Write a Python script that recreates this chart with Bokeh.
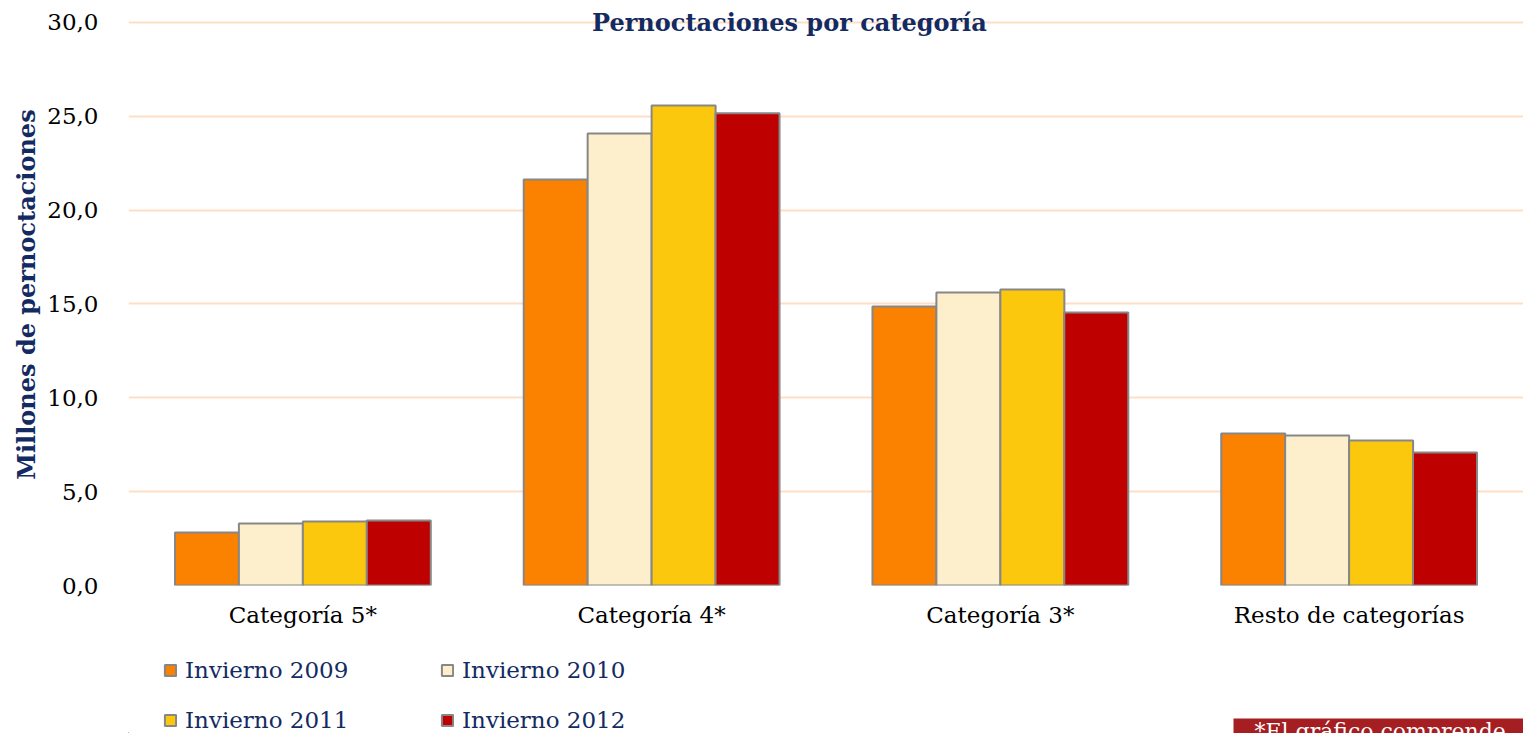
from bokeh.plotting import figure
from bokeh.layouts import column
from bokeh.models import (ColumnDataSource, FactorRange, Range1d, FixedTicker,
                          CustomJSTickFormatter, Legend, LegendItem, Label)
from bokeh.transform import dodge
from bokeh.embed import file_html
from bokeh.resources import INLINE

categories = ["Categoría 5*", "Categoría 4*", "Categoría 3*", "Resto de categorías"]
series = ["Invierno 2009", "Invierno 2010", "Invierno 2011", "Invierno 2012"]
v2009 = [2.82, 21.63, 14.86, 8.10]
v2010 = [3.30, 24.08, 15.61, 7.99]
v2011 = [3.41, 25.57, 15.77, 7.73]
v2012 = [3.46, 25.15, 14.54, 7.09]
colors = ["#FB8100", "#FEEFCC", "#FCC80E", "#BE0000"]
y_ticks = [0, 5, 10, 15, 20, 25, 30]
chart_title = "Pernoctaciones por categoría"
note_text = "\u00a0\u00a0\u00a0*El gráfico comprende" + "\u00a0" * 12

SERIF = "DejaVu Serif"
NAVY = "#132A62"
W = 1523
LEFT = 128

source = ColumnDataSource(dict(cat=categories, s0=v2009, s1=v2010, s2=v2011, s3=v2012))

p = figure(x_range=FactorRange(*categories, range_padding=0, factor_padding=0),
           y_range=Range1d(0, 31), width=W, height=630,
           output_backend="svg", toolbar_location=None,
           min_border_left=LEFT, min_border_right=0, min_border_top=3,
           min_border_bottom=45)
p.outline_line_color = None

offsets = [-0.275, -0.0917, 0.0917, 0.275]
for i, (key, col) in enumerate(zip(["s0", "s1", "s2", "s3"], colors)):
    p.vbar(x=dodge("cat", offsets[i], range=p.x_range), top=key, width=0.1835,
           source=source, fill_color=col, line_color="#878787", line_width=2)

# axes
p.yaxis.ticker = FixedTicker(ticks=y_ticks)
p.yaxis.formatter = CustomJSTickFormatter(code="return tick.toFixed(1).replace('.', ',');")
p.yaxis.axis_line_color = None
p.yaxis.major_tick_line_color = None
p.yaxis.minor_tick_line_color = None
p.yaxis.major_label_text_font = SERIF
p.yaxis.major_label_text_font_size = "23px"
p.yaxis.major_label_text_color = "#000000"
p.yaxis.major_label_standoff = 24
p.yaxis.axis_label = "Millones de pernoctaciones"
p.yaxis.axis_label_text_font = SERIF
p.yaxis.axis_label_text_font_style = "bold"
p.yaxis.axis_label_text_font_size = "24px"
p.yaxis.axis_label_text_color = NAVY
p.yaxis.axis_label_standoff = 3

p.xaxis.axis_line_color = None
p.xaxis.major_tick_line_color = None
p.xaxis.minor_tick_line_color = None
p.xaxis.major_label_text_font = SERIF
p.xaxis.major_label_text_font_size = "23px"
p.xaxis.major_label_text_color = "#000000"
p.xaxis.major_label_standoff = 10

p.xgrid.grid_line_color = None
p.ygrid.grid_line_color = "#FDDFC6"
p.ygrid.grid_line_width = 2

# title sitting on the top gridline
p.add_layout(Label(x=1.895, y=30, text=chart_title, text_align="center",
                   text_baseline="middle", text_font=SERIF, text_font_style="bold",
                   text_font_size="24px", text_color=NAVY))

# lower strip: legend + note (x in screen pixels)
p2 = figure(x_range=Range1d(LEFT, W), y_range=Range1d(0, 103), width=W, height=103,
            output_backend="svg", toolbar_location=None,
            min_border_left=LEFT, min_border_right=0, min_border_top=0, min_border_bottom=0)
p2.axis.visible = False
p2.grid.visible = False
p2.outline_line_color = None

items = []
for s, col in zip(series, colors):
    r = p2.vbar(x=[-500], top=[-50], bottom=[-50], width=1, fill_color=col,
                line_color="#878787", line_width=2)
    items.append(LegendItem(label=s, renderers=[r]))
legend = Legend(items=items, ncols=2, location=(163 - LEFT, 0), orientation="horizontal",
                glyph_width=14, glyph_height=14, label_standoff=8,
                label_text_font=SERIF, label_text_font_size="23px",
                label_text_color=NAVY, label_width=231, label_height=26,
                spacing=24, padding=0, margin=0, border_line_color=None,
                background_fill_alpha=0)
p2.add_layout(legend)

p2.add_layout(Label(x=1233, y=15, text=note_text, text_align="left",
                    text_baseline="top", text_font=SERIF, text_font_size="22px",
                    text_color="white", background_fill_color="#A41E22",
                    border_line_color=None))

open("out.html", "w").write(file_html(column(p, p2, spacing=0), INLINE))
